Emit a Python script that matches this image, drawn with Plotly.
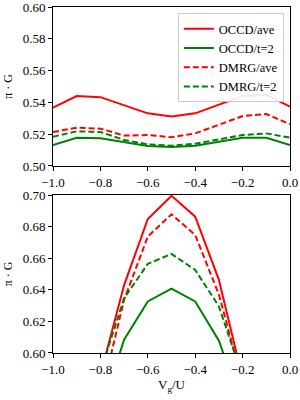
import plotly.graph_objects as go
from plotly.subplots import make_subplots

# top panel
x_top = [-1.0, -0.9, -0.8, -0.7, -0.6, -0.5, -0.4, -0.3, -0.2, -0.1, 0.0]
occd_ave_top = [0.5367, 0.5440, 0.5433, 0.5380, 0.5331, 0.5312, 0.5331, 0.5386, 0.5440, 0.5447, 0.5374]
occd_t2_top = [0.5132, 0.5178, 0.5175, 0.5149, 0.5126, 0.5119, 0.5128, 0.5153, 0.5178, 0.5178, 0.5132]
dmrg_ave_top = [0.5214, 0.5241, 0.5235, 0.5191, 0.5195, 0.5181, 0.5205, 0.5258, 0.5314, 0.5327, 0.5262]
dmrg_t2_top = [0.5184, 0.5218, 0.5214, 0.5164, 0.5136, 0.5128, 0.5140, 0.5168, 0.5195, 0.5205, 0.5178]

# bottom panel
x_bot = [-0.8, -0.7, -0.6, -0.5, -0.4, -0.3, -0.2]
occd_ave_bot = [0.586, 0.643, 0.6848, 0.6995, 0.6863, 0.6463, 0.584]
occd_t2_bot = [0.562, 0.6084, 0.6326, 0.6408, 0.6326, 0.6078, 0.565]
dmrg_ave_bot = [0.571, 0.6337, 0.6737, 0.6878, 0.6747, 0.637, 0.581]
dmrg_t2_bot = [0.588, 0.6347, 0.6564, 0.6627, 0.6526, 0.6295, 0.585]

labels = ["OCCD/ave", "OCCD/t=2", "DMRG/ave", "DMRG/t=2"]
colors = ["#ff0000", "#008000", "#ff0000", "#008000"]
dashes = ["solid", "solid", "6px,3px", "6px,3px"]

fig = make_subplots(rows=2, cols=1, vertical_spacing=0.0)

top_series = [occd_ave_top, occd_t2_top, dmrg_ave_top, dmrg_t2_top]
bot_series = [occd_ave_bot, occd_t2_bot, dmrg_ave_bot, dmrg_t2_bot]
for i in range(4):
    fig.add_trace(go.Scatter(x=x_top, y=top_series[i], mode="lines", name=labels[i],
                             line=dict(color=colors[i], width=2, dash=dashes[i]),
                             showlegend=True), row=1, col=1)
for i in range(4):
    fig.add_trace(go.Scatter(x=x_bot, y=bot_series[i], mode="lines", name=labels[i],
                             line=dict(color=colors[i], width=2, dash=dashes[i]),
                             showlegend=False), row=2, col=1)

font = dict(family="Liberation Serif", size=13, color="black")
axis_common = dict(showline=True, linecolor="black", linewidth=1, mirror=True,
                   ticks="outside", ticklen=4, tickcolor="black", showgrid=False,
                   zeroline=False, tickfont=font, automargin=False,
                   ticklabeloverflow="allow")

fig.update_xaxes(range=[-1.0, 0.0], dtick=0.2, tickformat=".1f", **axis_common)
fig.update_yaxes(**axis_common)
fig.update_yaxes(range=[0.50, 0.60], dtick=0.02, tickformat=".2f", row=1, col=1,
                 title=dict(text="π · G", font=dict(family="Liberation Serif", size=12), standoff=7))
fig.update_yaxes(range=[0.60, 0.70], dtick=0.02, tickformat=".2f", row=2, col=1,
                 title=dict(text="π · G", font=dict(family="Liberation Serif", size=12), standoff=7))
fig.update_xaxes(row=2, col=1, title=dict(text="V<sub>g</sub>/U", font=font, standoff=4))

fig.update_layout(
    template="none",
    width=300, height=400,
    margin=dict(l=53, r=10, t=7, b=47),
    plot_bgcolor="white", paper_bgcolor="white",
    font=font,
    legend=dict(x=0.974, y=0.982, xanchor="right", yanchor="top",
                bgcolor="rgba(255,255,255,0.9)", bordercolor="#cccccc", borderwidth=1,
                font=dict(family="Liberation Serif", size=12.5, color="black"),
                tracegroupgap=0, itemwidth=30),
)
fig.layout.yaxis.domain = [0.5405, 1.0]
fig.layout.yaxis2.domain = [0.0, 0.4566]

fig.write_html("out.html", config={"displayModeBar": False},
               post_script="document.body.style.margin='0';document.body.style.padding='0';")
